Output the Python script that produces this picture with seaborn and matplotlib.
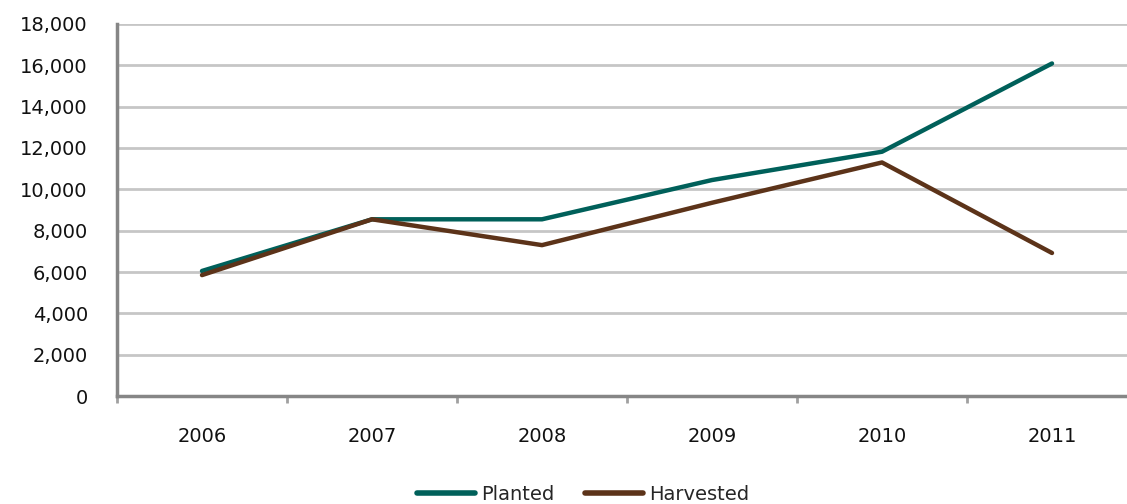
import matplotlib
matplotlib.use("Agg")
import matplotlib.pyplot as plt
import seaborn as sns
import pandas as pd
from matplotlib.ticker import FuncFormatter, FixedLocator

years = [2006, 2007, 2008, 2009, 2010, 2011]
planted = [6050, 8550, 8550, 10450, 11820, 16090]
harvested = [5850, 8550, 7300, 9350, 11300, 6920]
series_names = ["Planted", "Harvested"]
colors = {"Planted": "#00605A", "Harvested": "#5C3319"}

df = pd.DataFrame({
    "Year": years * 2,
    "Value": planted + harvested,
    "Series": [series_names[0]] * len(years) + [series_names[1]] * len(years),
})

sns.set_style("white")
plt.rcParams["font.family"] = ["DejaVu Sans"]

fig = plt.figure(figsize=(11.27, 5.04), dpi=100)
ax = fig.add_axes([117 / 1127, 1 - 396 / 504, 1020 / 1127, 372 / 504])

sns.lineplot(data=df, x="Year", y="Value", hue="Series", palette=colors,
             linewidth=3.2, ax=ax, legend=False)

ax.set_xlim(2005.5, 2011.5)
ax.set_ylim(0, 18000)
ax.set_yticks(range(0, 18001, 2000))
ax.yaxis.set_major_formatter(FuncFormatter(lambda v, p: f"{int(v):,}"))
ax.set_xticks(years)
ax.set_xticklabels([str(y) for y in years])
ax.xaxis.set_minor_locator(FixedLocator([y - 0.5 for y in years] + [2011.5]))

ax.grid(axis="y", color="#C6C6C6", linewidth=2)
ax.set_axisbelow(True)
ax.set_xlabel("")
ax.set_ylabel("")

for side in ["top", "right"]:
    ax.spines[side].set_visible(False)
for side in ["left", "bottom"]:
    ax.spines[side].set_color("#868686")
    ax.spines[side].set_linewidth(2.5)

ax.tick_params(axis="y", which="major", length=9, width=2, color="#C6C6C6",
               labelsize=14, pad=12, labelcolor="#111111")
ax.tick_params(axis="x", which="major", length=0, labelsize=14, pad=22,
               labelcolor="#111111")
ax.tick_params(axis="x", which="minor", length=5, width=2, color="#A0A0A0",
               direction="out", bottom=True)

handles = [plt.Line2D([], [], color=colors[s], linewidth=4) for s in series_names]
fig.legend(handles, series_names, loc="center", bbox_to_anchor=(583 / 1127, 1 - 494 / 504),
           ncol=2, frameon=False, fontsize=14, handlelength=3.0, handletextpad=0.3,
           columnspacing=1.6)

fig.savefig("out.png", dpi=100)
